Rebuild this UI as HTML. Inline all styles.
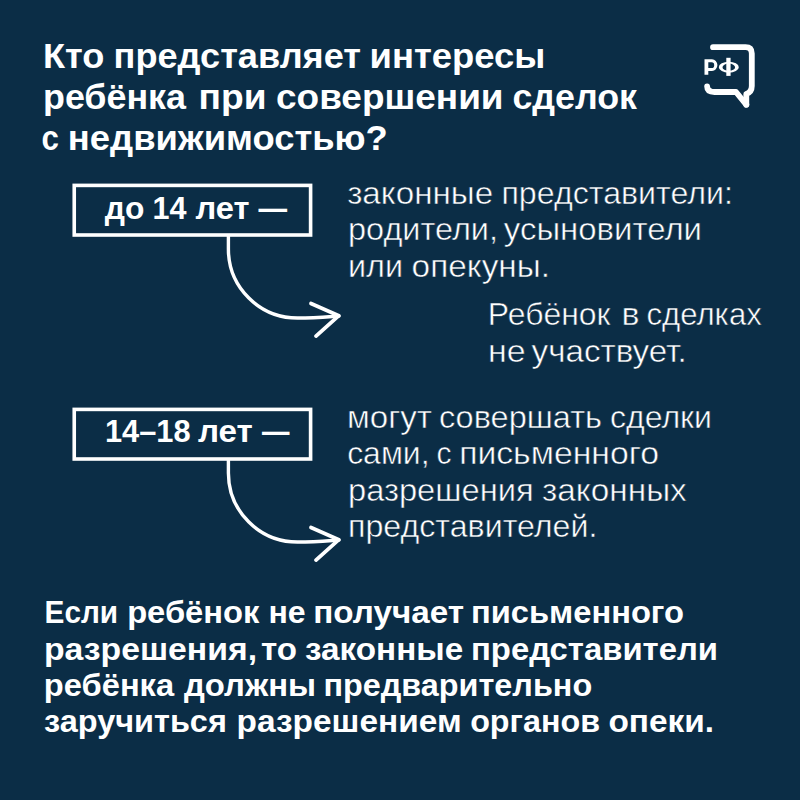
<!DOCTYPE html>
<html><head><meta charset="utf-8">
<style>
html,body{margin:0;padding:0;}
body{width:800px;height:800px;background:#0b2d46;overflow:hidden;}
svg{display:block;}
text{font-family:"Liberation Sans",sans-serif;fill:#fff;}
</style></head><body>
<svg width="800" height="800" viewBox="0 0 800 800">
<rect width="800" height="800" fill="#0b2d46"/>
<text id="t1_0" class="tx" x="43.00" y="67.75" font-size="35" font-weight="bold" textLength="61.40" lengthAdjust="spacingAndGlyphs">Кто</text>
<text id="t1_1" class="tx" x="113.60" y="67.75" font-size="35" font-weight="bold" textLength="247.40" lengthAdjust="spacingAndGlyphs">представляет</text>
<text id="t1_2" class="tx" x="369.60" y="67.75" font-size="35" font-weight="bold" textLength="175.80" lengthAdjust="spacingAndGlyphs">интересы</text>
<text id="t2_0" class="tx" x="43.00" y="108.50" font-size="35" font-weight="bold" textLength="143.00" lengthAdjust="spacingAndGlyphs">ребёнка</text>
<text id="t2_1" class="tx" x="198.60" y="108.50" font-size="35" font-weight="bold" textLength="68.00" lengthAdjust="spacingAndGlyphs">при</text>
<text id="t2_2" class="tx" x="276.00" y="108.50" font-size="35" font-weight="bold" textLength="227.60" lengthAdjust="spacingAndGlyphs">совершении</text>
<text id="t2_3" class="tx" x="512.40" y="108.50" font-size="35" font-weight="bold" textLength="124.60" lengthAdjust="spacingAndGlyphs">сделок</text>
<text id="t3_0" class="tx" x="41.60" y="149.50" font-size="35" font-weight="bold" textLength="17.40" lengthAdjust="spacingAndGlyphs">с</text>
<text id="t3_1" class="tx" x="67.85" y="149.50" font-size="35" font-weight="bold" textLength="320.00" lengthAdjust="spacingAndGlyphs">недвижимостью?</text>
<text id="b1_0" class="tx" x="104.85" y="219.25" font-size="32" font-weight="bold" textLength="39.55" lengthAdjust="spacingAndGlyphs">до</text>
<text id="b1_1" class="tx" x="152.60" y="219.25" font-size="32" font-weight="bold" textLength="34.00" lengthAdjust="spacingAndGlyphs">14</text>
<text id="b1_2" class="tx" x="195.40" y="219.25" font-size="32" font-weight="bold" textLength="54.00" lengthAdjust="spacingAndGlyphs">лет</text>
<text id="b1_3" class="tx" x="258.60" y="219.25" font-size="32" font-weight="bold" textLength="28.55" lengthAdjust="spacingAndGlyphs">—</text>
<text id="b2_0" class="tx" x="105.00" y="442.30" font-size="32" font-weight="bold" textLength="85.60" lengthAdjust="spacingAndGlyphs">14–18</text>
<text id="b2_1" class="tx" x="198.00" y="442.30" font-size="32" font-weight="bold" textLength="54.85" lengthAdjust="spacingAndGlyphs">лет</text>
<text id="b2_2" class="tx" x="262.00" y="442.30" font-size="32" font-weight="bold" textLength="27.40" lengthAdjust="spacingAndGlyphs">—</text>
<text id="r1_0" class="tx" x="347.15" y="203.50" font-size="30.5" font-weight="normal" textLength="146.00" lengthAdjust="spacingAndGlyphs" stroke="#0b2d46" stroke-width="0.5">законные</text>
<text id="r1_1" class="tx" x="501.40" y="203.50" font-size="30.5" font-weight="normal" textLength="231.60" lengthAdjust="spacingAndGlyphs" stroke="#0b2d46" stroke-width="0.5">представители:</text>
<text id="r2_0" class="tx" x="348.00" y="239.80" font-size="30.5" font-weight="normal" textLength="150.00" lengthAdjust="spacingAndGlyphs" stroke="#0b2d46" stroke-width="0.5">родители,</text>
<text id="r2_1" class="tx" x="503.85" y="239.80" font-size="30.5" font-weight="normal" textLength="198.15" lengthAdjust="spacingAndGlyphs" stroke="#0b2d46" stroke-width="0.5">усыновители</text>
<text id="r3_0" class="tx" x="348.00" y="276.50" font-size="30.5" font-weight="normal" textLength="55.00" lengthAdjust="spacingAndGlyphs" stroke="#0b2d46" stroke-width="0.5">или</text>
<text id="r3_1" class="tx" x="411.60" y="276.50" font-size="30.5" font-weight="normal" textLength="138.40" lengthAdjust="spacingAndGlyphs" stroke="#0b2d46" stroke-width="0.5">опекуны.</text>
<text id="r4_0" class="tx" x="487.85" y="324.70" font-size="30.5" font-weight="normal" textLength="122.75" lengthAdjust="spacingAndGlyphs" stroke="#0b2d46" stroke-width="0.5">Ребёнок</text>
<text id="r4_1" class="tx" x="621.40" y="324.70" font-size="30.5" font-weight="normal" textLength="18.00" lengthAdjust="spacingAndGlyphs" stroke="#0b2d46" stroke-width="0.5">в</text>
<text id="r4_2" class="tx" x="646.40" y="324.70" font-size="30.5" font-weight="normal" textLength="115.40" lengthAdjust="spacingAndGlyphs" stroke="#0b2d46" stroke-width="0.5">сделках</text>
<text id="r5_0" class="tx" x="488.00" y="361.70" font-size="30.5" font-weight="normal" textLength="37.60" lengthAdjust="spacingAndGlyphs" stroke="#0b2d46" stroke-width="0.5">не</text>
<text id="r5_1" class="tx" x="531.60" y="361.70" font-size="30.5" font-weight="normal" textLength="155.20" lengthAdjust="spacingAndGlyphs" stroke="#0b2d46" stroke-width="0.5">участвует.</text>
<text id="s1_0" class="tx" x="347.00" y="427.60" font-size="30.5" font-weight="normal" textLength="85.00" lengthAdjust="spacingAndGlyphs" stroke="#0b2d46" stroke-width="0.5">могут</text>
<text id="s1_1" class="tx" x="439.00" y="427.60" font-size="30.5" font-weight="normal" textLength="163.00" lengthAdjust="spacingAndGlyphs" stroke="#0b2d46" stroke-width="0.5">совершать</text>
<text id="s1_2" class="tx" x="610.00" y="427.60" font-size="30.5" font-weight="normal" textLength="102.00" lengthAdjust="spacingAndGlyphs" stroke="#0b2d46" stroke-width="0.5">сделки</text>
<text id="s2_0" class="tx" x="347.15" y="464.30" font-size="30.5" font-weight="normal" textLength="82.45" lengthAdjust="spacingAndGlyphs" stroke="#0b2d46" stroke-width="0.5">сами,</text>
<text id="s2_1" class="tx" x="436.40" y="464.30" font-size="30.5" font-weight="normal" textLength="15.00" lengthAdjust="spacingAndGlyphs" stroke="#0b2d46" stroke-width="0.5">с</text>
<text id="s2_2" class="tx" x="459.15" y="464.30" font-size="30.5" font-weight="normal" textLength="199.85" lengthAdjust="spacingAndGlyphs" stroke="#0b2d46" stroke-width="0.5">письменного</text>
<text id="s3_0" class="tx" x="348.00" y="501.00" font-size="30.5" font-weight="normal" textLength="185.60" lengthAdjust="spacingAndGlyphs" stroke="#0b2d46" stroke-width="0.5">разрешения</text>
<text id="s3_1" class="tx" x="542.00" y="501.00" font-size="30.5" font-weight="normal" textLength="144.80" lengthAdjust="spacingAndGlyphs" stroke="#0b2d46" stroke-width="0.5">законных</text>
<text id="s4_0" class="tx" x="348.00" y="537.10" font-size="30.5" font-weight="normal" textLength="249.40" lengthAdjust="spacingAndGlyphs" stroke="#0b2d46" stroke-width="0.5">представителей.</text>
<text id="f1_0" class="tx" x="44.60" y="623.00" font-size="32" font-weight="bold" textLength="73.55" lengthAdjust="spacingAndGlyphs">Если</text>
<text id="f1_1" class="tx" x="127.15" y="623.00" font-size="32" font-weight="bold" textLength="132.25" lengthAdjust="spacingAndGlyphs">ребёнок</text>
<text id="f1_2" class="tx" x="268.40" y="623.00" font-size="32" font-weight="bold" textLength="37.20" lengthAdjust="spacingAndGlyphs">не</text>
<text id="f1_3" class="tx" x="313.20" y="623.00" font-size="32" font-weight="bold" textLength="150.80" lengthAdjust="spacingAndGlyphs">получает</text>
<text id="f1_4" class="tx" x="471.00" y="623.00" font-size="32" font-weight="bold" textLength="213.00" lengthAdjust="spacingAndGlyphs">письменного</text>
<text id="f2_0" class="tx" x="44.00" y="659.50" font-size="32" font-weight="bold" textLength="213.00" lengthAdjust="spacingAndGlyphs">разрешения,</text>
<text id="f2_1" class="tx" x="261.00" y="659.50" font-size="32" font-weight="bold" textLength="36.00" lengthAdjust="spacingAndGlyphs">то</text>
<text id="f2_2" class="tx" x="305.00" y="659.50" font-size="32" font-weight="bold" textLength="158.15" lengthAdjust="spacingAndGlyphs">законные</text>
<text id="f2_3" class="tx" x="471.00" y="659.50" font-size="32" font-weight="bold" textLength="247.00" lengthAdjust="spacingAndGlyphs">представители</text>
<text id="f3_0" class="tx" x="43.85" y="696.00" font-size="32" font-weight="bold" textLength="130.30" lengthAdjust="spacingAndGlyphs">ребёнка</text>
<text id="f3_1" class="tx" x="184.00" y="696.00" font-size="32" font-weight="bold" textLength="132.00" lengthAdjust="spacingAndGlyphs">должны</text>
<text id="f3_2" class="tx" x="323.40" y="696.00" font-size="32" font-weight="bold" textLength="268.80" lengthAdjust="spacingAndGlyphs">предварительно</text>
<text id="f4_0" class="tx" x="44.00" y="732.00" font-size="32" font-weight="bold" textLength="182.85" lengthAdjust="spacingAndGlyphs">заручиться</text>
<text id="f4_1" class="tx" x="236.60" y="732.00" font-size="32" font-weight="bold" textLength="225.00" lengthAdjust="spacingAndGlyphs">разрешением</text>
<text id="f4_2" class="tx" x="470.15" y="732.00" font-size="32" font-weight="bold" textLength="129.85" lengthAdjust="spacingAndGlyphs">органов</text>
<text id="f4_3" class="tx" x="608.40" y="732.00" font-size="32" font-weight="bold" textLength="105.60" lengthAdjust="spacingAndGlyphs">опеки.</text>
<g class="shape" fill="none" stroke="#fff" stroke-linecap="round" stroke-linejoin="round">
<rect x="74.24" y="185.4" width="236.36" height="49.6" stroke-width="3.6" stroke-linecap="butt" stroke-linejoin="miter"/>
<rect x="74.24" y="409.4" width="236.36" height="49.6" stroke-width="3.6" stroke-linecap="butt" stroke-linejoin="miter"/>
<path d="M228.4 236 L228.4 249 A69 69 0 0 0 297.4 318 C315 318 325 317 339 316" stroke-width="3.4"/>
<path d="M311 303.5 L338.8 315.7 L316 336.1" stroke-width="3.8"/>
<path d="M228.4 460 L228.4 473 A69 69 0 0 0 297.4 542 C315 542 325 541 339 540" stroke-width="3.4"/>
<path d="M311 527.5 L338.8 539.7 L316 560.1" stroke-width="3.8"/>
</g>
<g class="shape" fill="none" stroke="#fff" stroke-width="5.8" stroke-linecap="round" stroke-linejoin="round">
<path d="M713 47.2 L745.5 47.2 Q751.8 47.2 751.8 53.5 L751.8 86 Q751.8 92 746.3 94 L746.3 104.7"/>
<path d="M707.1 86.3 Q707.1 92 714.5 92 L736 92 L746.3 104.7"/>
</g>
<g class="shape" fill="#fff" fill-rule="evenodd">
<path d="M704.5 74.8 V59.2 H712 A5.4 5.85 0 0 1 712 70.9 H708.3 V74.8 Z M708.3 62.3 H711.6 A2.6 2.85 0 0 1 711.6 68 H708.3 Z"/>
<path d="M738.8 67.2 A10 5.5 0 0 1 718.8 67.2 A10 5.5 0 0 1 738.8 67.2 Z M735.1 67.2 A6.3 3.6 0 0 1 722.5 67.2 A6.3 3.6 0 0 1 735.1 67.2 Z"/>
<rect x="726.3" y="57.8" width="4.3" height="18.1"/>
</g>
</svg>
</body></html>
